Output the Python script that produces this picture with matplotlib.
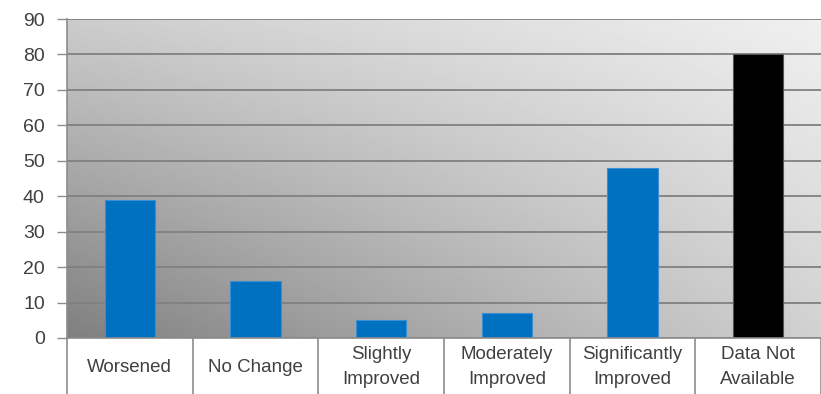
import matplotlib
matplotlib.use("Agg")
import matplotlib.pyplot as plt
import numpy as np
from matplotlib import font_manager

categories = ["Worsened", "No Change", "Slightly\nImproved", "Moderately\nImproved",
              "Significantly\nImproved", "Data Not\nAvailable"]
values = [39, 16, 5, 7, 48, 80]
bar_colors = ["#0070c0", "#0070c0", "#0070c0", "#0070c0", "#0070c0", "#000000"]
edge_colors = ["#3a8fd0", "#3a8fd0", "#3a8fd0", "#3a8fd0", "#3a8fd0", "#555555"]
yticks = list(range(0, 91, 10))

installed = {f.name for f in font_manager.fontManager.ttflist}
label_font = "Liberation Sans Narrow" if "Liberation Sans Narrow" in installed else "Liberation Sans"

fig = plt.figure(figsize=(8.21, 3.94), dpi=100)
ax = fig.add_axes([67 / 821, 1 - 338 / 394, 1 - 67 / 821, (338 - 19) / 394])

# grey gradient for the plot area: dark bottom-left, light top-right
n = 256
xx, yy = np.meshgrid(np.linspace(0, 1, n), np.linspace(0, 1, n))
bl, tl, br, tr = 0.50, 0.80, 0.82, 0.94
grad = (bl * (1 - xx) * (1 - yy) + br * xx * (1 - yy)
        + tl * (1 - xx) * yy + tr * xx * yy)
ax.imshow(grad, cmap="gray", vmin=0, vmax=1, origin="lower", aspect="auto",
          extent=[0, 1, 0, 1], transform=ax.transAxes, zorder=0, interpolation="bilinear")

x = np.arange(len(categories))
ax.bar(x, values, width=0.4, color=bar_colors, edgecolor=edge_colors, linewidth=0.8, zorder=3)

ax.set_xlim(-0.5, len(categories) - 0.5)
ax.set_ylim(0, 90)
ax.set_yticks(yticks)
ax.set_yticklabels([str(v) for v in yticks], fontsize=14, color="#404040",
                   family=["Liberation Sans", "DejaVu Sans"])
ax.tick_params(axis="y", length=7, width=1, color="#8c8c8c", pad=9)
ax.set_xticks([])
ax.yaxis.grid(True, color="#808080", linewidth=1.3, zorder=1)
ax.set_axisbelow(True)
for side in ["top", "right", "bottom"]:
    ax.spines[side].set_visible(False)
ax.spines["left"].set_color("#8c8c8c")
ax.spines["left"].set_linewidth(1.2)
ax.spines["left"].set_zorder(4)

# category table below the plot area
trans = ax.get_xaxis_transform()
for b in np.arange(-0.5, len(categories) + 0.5, 1.0):
    ax.plot([b, b], [0, -0.18], transform=trans, color="#8c8c8c", linewidth=1.2,
            clip_on=False, zorder=5)
ax.plot([-0.5, len(categories) - 0.5], [0, 0], transform=trans, color="#8c8c8c",
        linewidth=1.2, clip_on=False, zorder=5)
for xi, lab in zip(x, categories):
    ax.text(xi, -0.092, lab, transform=trans, ha="center", va="center",
            fontsize=13.5, color="#404040", family=[label_font, "DejaVu Sans"],
            linespacing=1.6)

fig.savefig("out.png", dpi=100)
